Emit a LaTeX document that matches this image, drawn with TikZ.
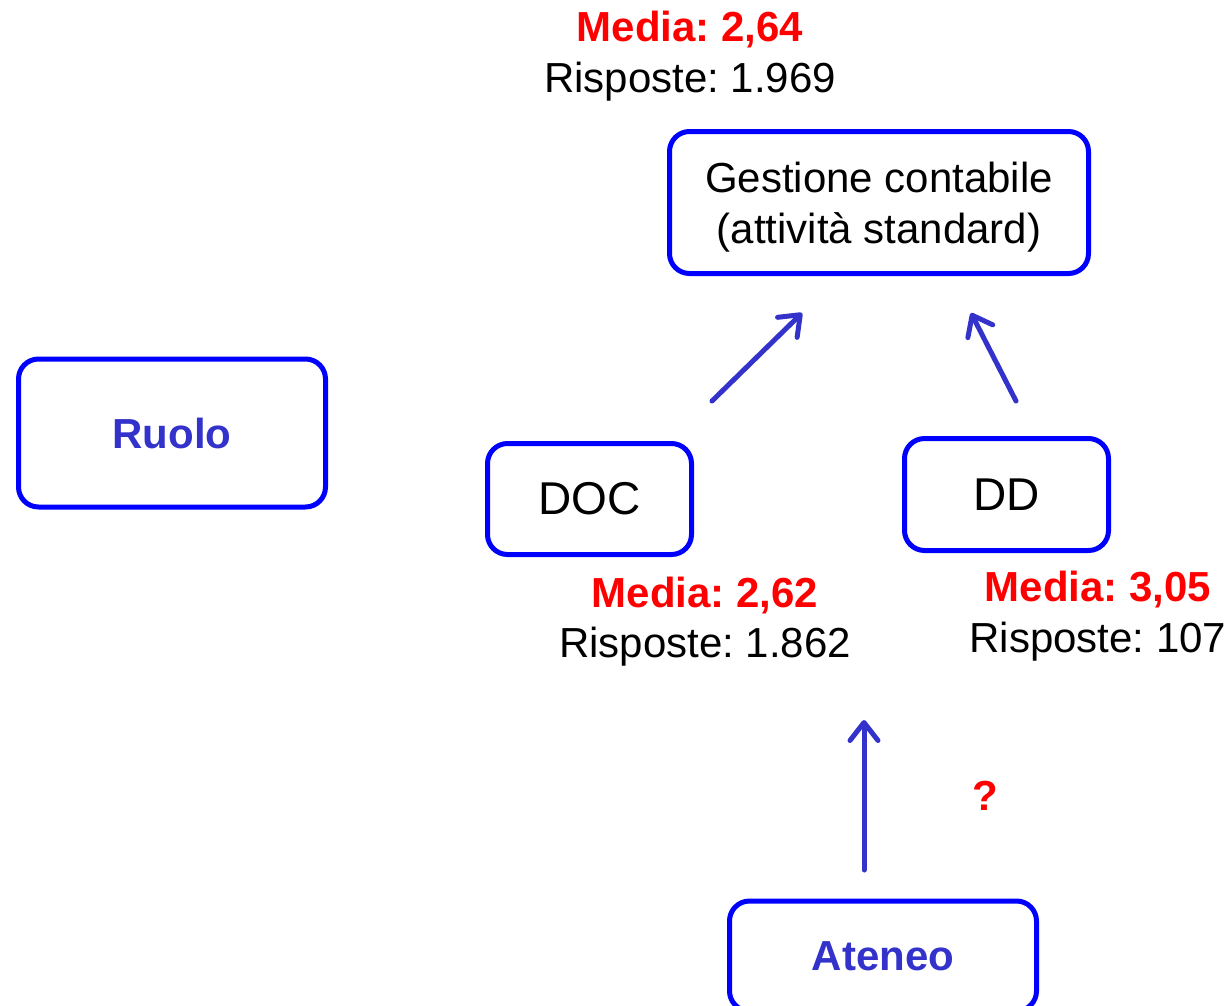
\documentclass[tikz,border=0pt]{standalone}
\usepackage{fontspec}
\setmainfont{Liberation Sans}
\usetikzlibrary{arrows.meta}
\frenchspacing
\definecolor{boxblue}{RGB}{0,0,255}
\definecolor{txtblue}{RGB}{51,51,204}
\definecolor{red0}{RGB}{255,0,0}
\tikzset{
  box/.style={draw=boxblue, line width=5pt, rounded corners=20pt, fill=white, inner sep=0pt, align=center},
  plain/.style={font=\fontsize{42}{51}\selectfont, text=black},
  bigtxt/.style={font=\fontsize{46}{55}\selectfont, text=black},
  bluebold/.style={font=\fontsize{42}{51}\selectfont\bfseries, text=txtblue},
  redbold/.style={font=\fontsize{42}{51}\selectfont\bfseries, text=red0},
  lbl/.style={anchor=base, inner sep=0pt},
  arr/.style={draw=txtblue, line width=5pt, line cap=round, -{Straight Barb[length=18pt,width=28pt,line cap=round,line join=round]}}
}
\begin{document}
\begin{tikzpicture}[x=1pt,y=-1pt]
\useasboundingbox (0,0) rectangle (1232,1005);
\clip (0,0) rectangle (1232,1005);
% boxes
\node[box, minimum width=419pt, minimum height=142pt] (gest) at (879,202.5) {};
\node[plain, align=center, inner sep=0pt] (gesttxt) at (879,207) {Gestione contabile\\(attività standard)};
\node[box, bluebold, minimum width=307pt, minimum height=148pt] (ruolo) at (172,433) {Ruolo};
\node[box, bigtxt, minimum width=204pt, minimum height=111pt] (doc) at (589.5,499) {DOC};
\node[box, bigtxt, minimum width=204pt, minimum height=112pt] (dd) at (1006.5,494.5) {DD};
\node[box, bluebold, minimum width=307pt, minimum height=110pt] (ateneo) at (883,956) {Ateneo};
% labels
\node[lbl, redbold] (m1) at (690,41) {Media: 2,64};
\node[lbl, plain] (r1) at (690,92) {Risposte: 1.969};
\node[lbl, redbold] (m2) at (705,607) {Media: 2,62};
\node[lbl, plain] (r2) at (705,657) {Risposte: 1.862};
\node[lbl, redbold] (m3) at (1098,601) {Media: 3,05};
\node[lbl, plain] (r3) at (1098,652) {Risposte: 107};
\node[lbl, redbold] (q) at (985,810) {?};
% arrows
\coordinate (a1s) at (712,401);
\coordinate (a1e) at (802,313);
\coordinate (a2s) at (1016,401);
\coordinate (a2e) at (971,313);
\coordinate (a3s) at (864,870);
\coordinate (a3e) at (864,720);
\draw[arr] (a1s) -- (a1e);
\draw[arr] (a2s) -- (a2e);
\draw[arr] (a3s) -- (a3e);
\end{tikzpicture}
\end{document}
